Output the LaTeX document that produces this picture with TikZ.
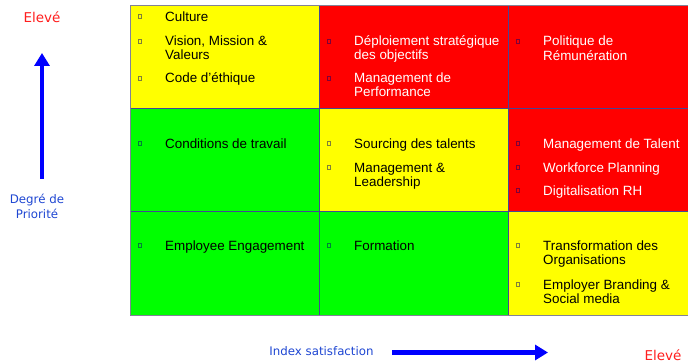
\documentclass[tikz,border=0pt]{standalone}
\usepackage{fontspec}
\setmainfont{Liberation Sans}
\newfontfamily\labelfont{DejaVu Sans}
\usetikzlibrary{arrows.meta, positioning}
\definecolor{cellyellow}{RGB}{255,255,0}
\definecolor{cellred}{RGB}{255,0,0}
\definecolor{cellgreen}{RGB}{0,255,0}
\definecolor{gridline}{RGB}{70,70,150}
\definecolor{framegray}{RGB}{130,130,150}
\definecolor{axisblue}{RGB}{0,0,255}
\definecolor{labelblue}{RGB}{30,70,210}
\definecolor{labelred}{RGB}{255,30,30}
\tikzset{
  cell/.style={draw=gridline, line width=0.7pt, minimum width=189pt,
    minimum height=103pt, inner sep=0pt, outer sep=0pt},
  yellowcell/.style={cell, fill=cellyellow},
  redcell/.style={cell, fill=cellred},
  greencell/.style={cell, fill=cellgreen},
  item/.style={anchor=base west, inner sep=0pt,
    font=\fontsize{13.4}{14}\selectfont},
  bullet/.style={draw=black!55!blue, draw opacity=0.5, line width=0.5pt,
    minimum width=3pt, minimum height=4pt, inner sep=0pt},
  axis/.style={line width=4.5pt, draw=axisblue,
    -{Triangle[length=13pt, width=15pt]}},
  axislabel/.style={font=\labelfont\fontsize{11.8}{15}\selectfont,
    text=labelblue, align=center},
  highlabel/.style={font=\labelfont\fontsize{13.5}{15}\selectfont,
    text=labelred}
}
% #1 text colour, #2 name, #3 left edge of the cell, #4 baseline, #5 text
\newcommand\ListItem[5][black]{%
    \node[bullet] (#2-b) at (#3+10,#4-5) {};
    \node[item, text=#1] (#2) at (#3+35,#4)
      {\begin{tabular}[t]{@{}l@{}}#5\end{tabular}};
    }

\begin{document}
\begin{tikzpicture}[x=1pt, y=-1pt]
    \useasboundingbox (0,0) rectangle (688,363);

    % the nine cells
    \node[yellowcell, anchor=north west] (c11) at (130,5) {};
    \node[redcell] (c12) [right=0pt of c11] {};
    \node[redcell, minimum width=185pt] (c13) [right=0pt of c12] {};
    \node[greencell] (c21) [below=0pt of c11] {};
    \node[yellowcell] (c22) [right=0pt of c21] {};
    \node[redcell, minimum width=185pt] (c23) [right=0pt of c22] {};
    \node[greencell, minimum height=104pt] (c31) [below=0pt of c21] {};
    \node[greencell, minimum height=104pt] (c32) [right=0pt of c31] {};
    \node[yellowcell, minimum width=185pt, minimum height=104pt] (c33) [right=0pt of c32] {};
    \draw[framegray, line width=0.8pt] (c13.north east) -- (c11.north west)
      -- (c31.south west) -- (c33.south east);

    % first row
    \ListItem{culture}{130}{21.5}{Culture}
    \ListItem{vision}{130}{46}{Vision, Mission \&\\Valeurs}
    \ListItem{ethique}{130}{83}{Code d’éthique}
    \ListItem[white]{deploiement}{319}{46}{Déploiement stratégique\\des objectifs}
    \ListItem[white]{performance}{319}{83}{Management de\\Performance}
    \ListItem[white]{remuneration}{508}{46}{Politique de\\Rémunération}

    % second row
    \ListItem{conditions}{130}{148.5}{Conditions de travail}
    \ListItem{sourcing}{319}{148.5}{Sourcing des talents}
    \ListItem{leadership}{319}{172.5}{Management \&\\Leadership}
    \ListItem[white]{talent}{508}{148.5}{Management de Talent}
    \ListItem[white]{workforce}{508}{172.5}{Workforce Planning}
    \ListItem[white]{digital}{508}{195.5}{Digitalisation RH}

    % third row
    \ListItem{engagement}{130}{250.5}{Employee Engagement}
    \ListItem{formation}{319}{250.5}{Formation}
    \ListItem{transformation}{508}{250.5}{Transformation des\\Organisations}
    \ListItem{branding}{508}{289.5}{Employer Branding \&\\Social media}

    % axes
    \node[highlabel] (yhigh) at (42,17) {Elevé};
    \node[axislabel] (ylabel) at (37,206) {Degré de\\Priorité};
    \coordinate (ybottom) at (42,179);
    \coordinate (ytop) at (42,53);
    \draw[axis] (ybottom) -- (ytop);

    \node[axislabel] (xlabel) at (321.5,351) {Index satisfaction};
    \node[highlabel] (xhigh) at (663,355.5) {Elevé};
    \coordinate (xleft) at (392,352.5);
    \coordinate (xright) at (548,352.5);
    \draw[axis] (xleft) -- (xright);
\end{tikzpicture}
\end{document}
